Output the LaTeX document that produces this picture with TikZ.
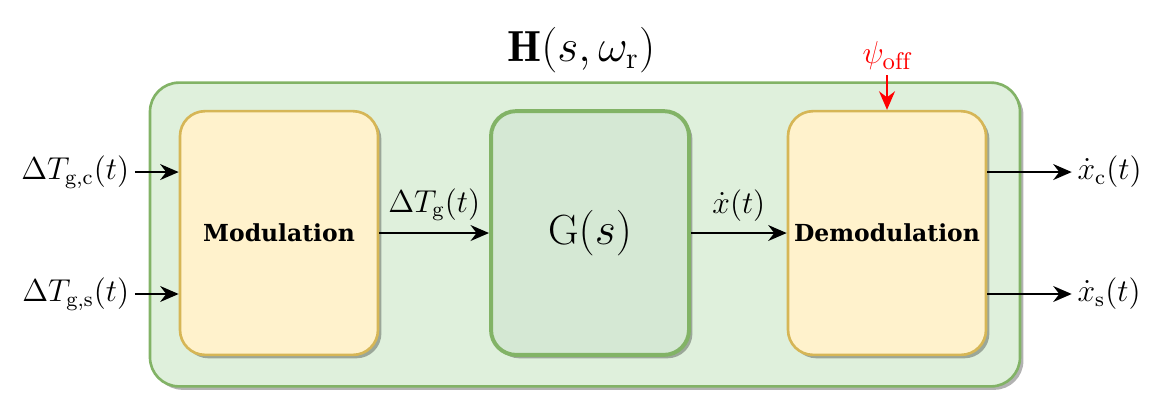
\documentclass[tikz,border=0pt]{standalone}
\usepackage{amsmath}
\usepackage{amssymb}
\usepackage{fontspec}
\newfontfamily\blockfont{DejaVu Serif}
\usetikzlibrary{shapes,arrows.meta,shadows,backgrounds}
\definecolor{grnline}{HTML}{82B366}
\definecolor{grnback}{HTML}{DFF0DC}
\definecolor{grnfill}{HTML}{D5E8D4}
\definecolor{ylwline}{HTML}{D6B656}
\definecolor{ylwfill}{HTML}{FFF2CC}
\tikzstyle{shd}=[drop shadow={shadow xshift=1.3pt,shadow yshift=-1.3pt,fill=black,opacity=0.3}]
\tikzstyle{sys}=[rectangle,rounded corners=11pt,draw=grnline,fill=grnback,line width=1pt,minimum width=11.6cm,minimum height=4.05cm,shd]
\tikzstyle{blk}=[rectangle,rounded corners=9.5pt,draw=ylwline,fill=ylwfill,line width=1pt,inner xsep=1pt,minimum width=2.64cm,minimum height=3.25cm,shd,font=\blockfont\bfseries\fontsize{8.9}{11}\selectfont]
\tikzstyle{plant}=[blk,draw=grnline,fill=grnfill,line width=1.5pt,font=\fontsize{16}{19}\selectfont]
\tikzstyle{sig}=[font=\fontsize{12}{14}\selectfont,inner sep=2pt]
\tikzstyle{p}=[-{Stealth[length=7pt,width=6pt]},line width=1pt]
\tikzstyle{off}=[p,red]

\begin{document}
\begin{tikzpicture}
    \useasboundingbox (0,0) rectangle (15.547,5.547);
    \node[sys] (sys) at (7.8,2.42) {};
    \node[font=\fontsize{16.5}{20}\selectfont] (title) at (7.75,4.88) {$\mathbf{H}(s,\omega_{\mathrm{r}})$};
    \node[blk] (mod) at (3.72,2.44) {Modulation};
    \node[plant] (G) at (7.867,2.44) {$\mathrm{G}(s)$};
    \node[blk] (demod) at (11.827,2.44) {Demodulation};
    % inputs
    \node[sig,anchor=east] (inc) at (1.8,3.253) {$\Delta T_{\mathrm{g,c}}(t)$};
    \node[sig,anchor=east] (ins) at (1.8,1.627) {$\Delta T_{\mathrm{g,s}}(t)$};
    \draw[p] (inc) to (mod.west |- inc);
    \draw[p] (ins) to (mod.west |- ins);
    % chain
    \draw[p] (mod) to node[sig,midway,above,yshift=2pt] {$\Delta T_{\mathrm{g}}(t)$} (G);
    \draw[p] (G) to node[sig,midway,above,yshift=2pt] {$\dot{x}(t)$} (demod);
    % outputs
    \node[sig,anchor=west] (outc) at (14.29,3.253) {$\dot{x}_{\mathrm{c}}(t)$};
    \node[sig,anchor=west] (outs) at (14.29,1.627) {$\dot{x}_{\mathrm{s}}(t)$};
    \draw[p] (demod.east |- outc) to (outc);
    \draw[p] (demod.east |- outs) to (outs);
    % phase offset
    \coordinate (psiin) at ([yshift=0.08cm]demod.north |- sys.north);
    \node[sig,red,anchor=south,font=\fontsize{13}{15}\selectfont] (psi) at (psiin) {$\psi_{\mathrm{off}}$};
    \draw[off] (psiin) to (demod.north);
\end{tikzpicture}
\end{document}
